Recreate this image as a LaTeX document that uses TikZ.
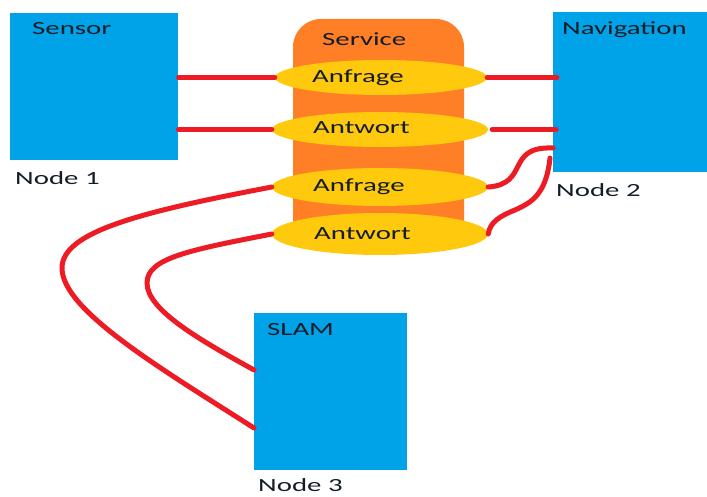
\documentclass[tikz,border=0pt]{standalone}
\usepackage{fontspec}
\usepackage{graphicx}
\setmainfont{Carlito}
\usetikzlibrary{shapes.geometric}

\definecolor{nodeblue}{RGB}{0,162,232}
\definecolor{srvorange}{RGB}{255,127,39}
\definecolor{msggold}{RGB}{255,201,14}
\definecolor{linkred}{RGB}{237,28,36}
\definecolor{ink}{RGB}{20,28,40}

% wide sans lettering
\newcommand{\wide}[1]{\scalebox{1.55}[1]{#1}}

\tikzset{
  nodebox/.style={rectangle, fill=nodeblue, draw=none, anchor=north west, inner sep=0pt},
  msg/.style={ellipse, fill=msggold, draw=none, inner sep=0pt},
  lbl/.style={font=\fontsize{18.6}{20}\selectfont, text=ink, inner sep=0pt, anchor=base west},
  link/.style={draw=linkred, line width=5pt, line cap=round}
}

\begin{document}
\begin{tikzpicture}[x=1pt, y=-1pt]
\useasboundingbox (0,0) rectangle (707,497);

% process nodes
\node[nodebox, minimum width=168pt, minimum height=147pt] (sensor) at (10,13) {};
\node[nodebox, minimum width=154pt, minimum height=160pt] (nav) at (553,12) {};
\node[nodebox, minimum width=153pt, minimum height=157pt] (slam) at (254,313) {};

% service column (rounded top)
\fill[srvorange, rounded corners=28pt] (293,240) -- (293,19) -- (464,19) -- (464,240);
\fill[srvorange] (293,200) rectangle (464,240);

% request / response messages
\node[msg, minimum width=212pt, minimum height=35pt] (e1) at (381,77.5) {};
\node[msg, minimum width=216pt, minimum height=35pt] (e2) at (380,129.5) {};
\node[msg, minimum width=216pt, minimum height=38pt] (e3) at (380,187) {};
\node[msg, minimum width=216pt, minimum height=42pt] (e4) at (380,234) {};

% texts
\node[lbl] (tsensor) at (32,35) {\wide{Sensor}};
\node[lbl] (tnav) at (562,35) {\wide{Navigation}};
\node[lbl] (tslam) at (267,335) {\wide{SLAM}};
\node[lbl] (tservice) at (322,46) {\wide{Service}};
\node[lbl] (te1) at (312,83) {\wide{Anfrage}};
\node[lbl] (te2) at (313,134) {\wide{Antwort}};
\node[lbl] (te3) at (313,192) {\wide{Anfrage}};
\node[lbl] (te4) at (314,240) {\wide{Antwort}};
\node[lbl] (tn1) at (15,185) {\wide{Node 1}};
\node[lbl] (tn2) at (556,197) {\wide{Node 2}};
\node[lbl] (tn3) at (258,491) {\wide{Node 3}};

% connection end points on the node boxes
\coordinate (navA) at (nav.west |- 0,148);
\coordinate (navB) at (550,158);
\coordinate (slamA) at (slam.west |- 0,370);
\coordinate (slamB) at (slam.west |- 0,428);

% straight links
\draw[link] (sensor.east |- e1.west) -- (e1.west);
\draw[link] (sensor.east |- e2.west) -- (e2.west);
\draw[link] (e1.east) -- ([xshift=4pt]nav.west |- e1.east);
\draw[link] ([xshift=4pt]e2.east) -- ([xshift=3pt]nav.west |- e2.east);

% curved links to Node 2
\draw[link] (navA) .. controls (505,146) and (530,184) .. (e3.east);
\draw[link] (navB) .. controls (546,196) and (530,203) .. (515,210)
                   .. controls (500,216) and (490,222) .. (e4.east);

% curved links to Node 3
\draw[link] (e3.west) .. controls (140,212) and (62,232) .. (62,268)
                      .. controls (62,310) and (160,368) .. (slamB);
\draw[link] (e4.west) .. controls (190,250) and (147,258) .. (147,283)
                      .. controls (147,310) and (200,340) .. (slamA);
\end{tikzpicture}
\end{document}
